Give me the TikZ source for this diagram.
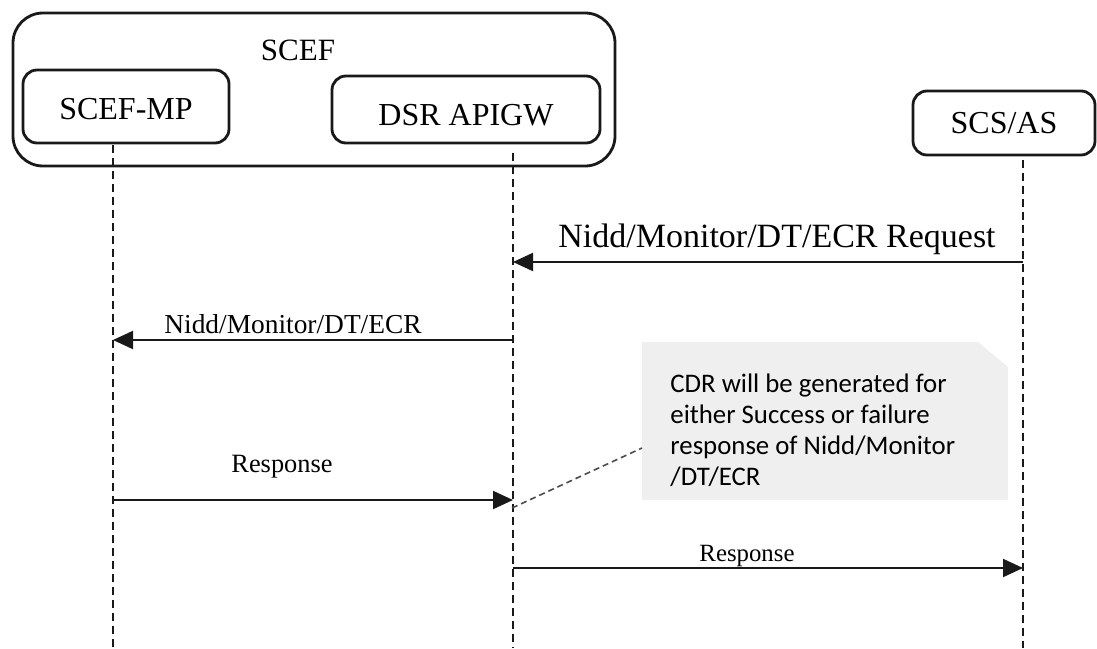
\documentclass[tikz,border=0pt]{standalone}
\usepackage{fontspec}
\setmainfont{Liberation Serif}
\newfontfamily\notefont{Carlito}
\usetikzlibrary{arrows.meta}
\definecolor{notegray}{RGB}{239,239,239}
\definecolor{linecol}{RGB}{25,25,25}
\begin{document}
\begin{tikzpicture}[x=0.5pt,y=-0.5pt,
  box/.style={draw=linecol, line width=1.4pt, rounded corners=7pt, inner sep=0pt, font=\fontsize{16}{19}\selectfont},
  lifeline/.style={draw=linecol, line width=0.9pt, dash pattern=on 4pt off 2.5pt},
  msg/.style={draw=linecol, line width=1pt, -{Triangle[length=10pt,width=9pt]}},
  lbl/.style={anchor=base, inner sep=0pt},
  notelink/.style={draw=black!70, line width=0.8pt, dash pattern=on 3pt off 2pt},
]
\useasboundingbox (0,0) rectangle (1097,648);

% boxes
\node[box, rounded corners=15pt, minimum width=301pt, minimum height=76.5pt] (scef) at (314,89.5) {};
\node[lbl, font=\fontsize{15.5}{18}\selectfont] (scefl) at (298,61) {SCEF};
\node[box, minimum width=103pt, minimum height=36.5pt, text height=12.5pt, text depth=0pt] (mp) at (126,106.5) {SCEF-MP};
\node[box, minimum width=134pt, minimum height=33.5pt, text height=15.5pt, text depth=0pt] (gw) at (466,109.5) {DSR APIGW};
\node[box, minimum width=91pt, minimum height=32pt, text height=11pt, text depth=1pt] (as) at (1004,123) {SCS/AS};

% lifelines
\coordinate (mpT) at (113,145); \coordinate (mpB) at (113,648);
\coordinate (gwT) at (513,153); \coordinate (gwB) at (513,648);
\coordinate (asT) at (1023,160); \coordinate (asB) at (1023,648);
\draw[lifeline] (mpT) -- (mpB);
\draw[lifeline] (gwT) -- (gwB);
\draw[lifeline] (asT) -- (asB);

% messages
\coordinate (m1s) at (1023,262); \coordinate (m1e) at (513,262);
\draw[msg] (m1s) -- (m1e);
\node[lbl, font=\fontsize{17}{20}\selectfont] (m1l) at (777,247) {Nidd/Monitor/DT/ECR Request};

\coordinate (m2s) at (513,340); \coordinate (m2e) at (113,340);
\draw[msg] (m2s) -- (m2e);
\node[lbl, font=\fontsize{13.7}{16}\selectfont] (m2l) at (293,333) {Nidd/Monitor/DT/ECR};

\coordinate (m3s) at (113,500); \coordinate (m3e) at (513,500);
\draw[msg] (m3s) -- (m3e);
\node[lbl, font=\fontsize{13.2}{16}\selectfont] (m3l) at (282,472) {Response};

\coordinate (m4s) at (513,568); \coordinate (m4e) at (1023,568);
\draw[msg] (m4s) -- (m4e);
\node[lbl, font=\fontsize{12.4}{15}\selectfont] (m4l) at (747,561) {Response};

% note
\fill[notegray] (642,342) -- (978,342) -- (1008,367) -- (1008,500) -- (642,500) -- cycle;
\node[anchor=north west, inner sep=0pt, align=left, font=\notefont\fontsize{13.4}{15.5}\selectfont] (note) at (670,373) {CDR will be generated for\\either Success or failure\\response of Nidd/Monitor\\/DT/ECR};
\coordinate (cA) at (512,508); \coordinate (cB) at (642,448);
\draw[notelink] (cA) -- (cB);
\end{tikzpicture}
\end{document}
